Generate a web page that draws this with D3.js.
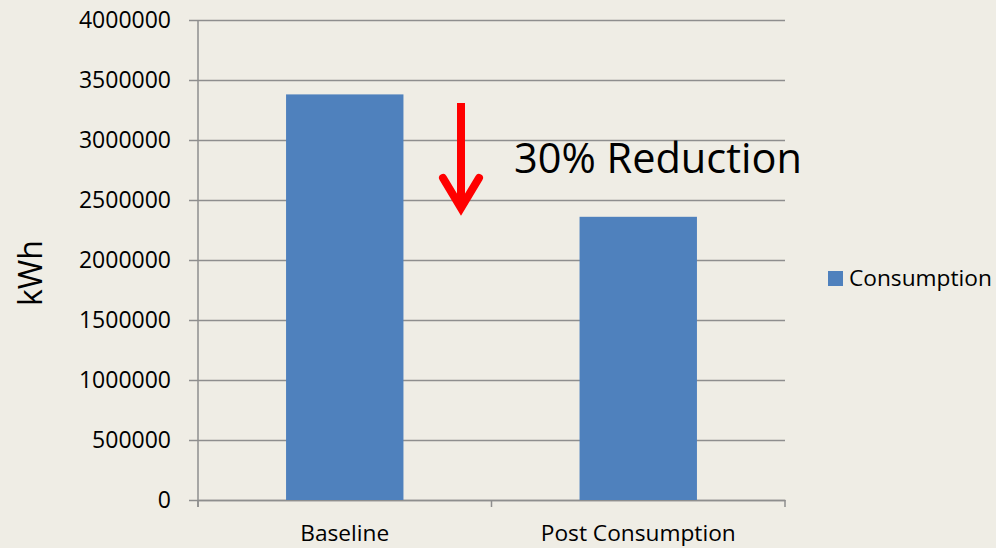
<!DOCTYPE html>
<html>
<head>
<meta charset="utf-8">
<script src="https://cdn.jsdelivr.net/npm/d3@7"></script>
<style>
  body { margin: 0; background: #efede5; }
  svg { display: block; }
  svg text { font-family: "Open Sans", sans-serif; }
</style>
</head>
<body>
<div id="chart"></div>
<script>
// data
var categories = ["Baseline", "Post Consumption"];
var consumption = [3380000, 2360000];
var yTicks = [0, 500000, 1000000, 1500000, 2000000, 2500000, 3000000, 3500000, 4000000];
var seriesName = "Consumption";
var annotation = "30% Reduction";

var W = 996, H = 548;
var margin = {top: 20, right: 211, bottom: 48, left: 198},
    width = W - margin.left - margin.right,
    height = H - margin.top - margin.bottom;

var svg = d3.select("#chart")
  .append("svg")
  .attr("width", W)
  .attr("height", H);

svg.append("rect").attr("width", W).attr("height", H).attr("fill", "#efede5");

var g = svg.append("g")
  .attr("transform", "translate(" + margin.left + "," + margin.top + ")");

var x = d3.scaleBand()
  .domain(categories)
  .range([0, width])
  .paddingInner(0.6)
  .paddingOuter(0.3);

var y = d3.scaleLinear()
  .domain([0, 4000000])
  .range([height, 0]);

// gridlines + y axis
var yAxis = g.append("g")
  .call(d3.axisLeft(y).tickValues(yTicks).tickFormat(d3.format("d")));
yAxis.select(".domain").remove();
yAxis.selectAll(".tick line")
  .attr("x1", width).attr("x2", -9)
  .attr("stroke", "#8e8e8e").attr("stroke-width", 1.5);
yAxis.selectAll(".tick text")
  .attr("x", -27)
  .style("font-family", "'Open Sans', sans-serif")
  .style("font-size", "23px").attr("fill", "#000");

// vertical axis line
g.append("line")
  .attr("x1", 0).attr("x2", 0).attr("y1", 0).attr("y2", height + 7)
  .attr("stroke", "#8e8e8e").attr("stroke-width", 1.5);

// x axis
var xAxis = g.append("g")
  .attr("transform", "translate(0," + height + ")")
  .call(d3.axisBottom(x).tickSize(0).tickPadding(25));
xAxis.select(".domain").attr("stroke", "#8e8e8e").attr("stroke-width", 1.5);
xAxis.selectAll(".tick text")
  .style("font-family", "'Open Sans', sans-serif")
  .style("font-size", "22.7px").attr("fill", "#000");
g.selectAll(".xtick")
  .data([0, width / 2, width])
  .join("line")
  .attr("class", "xtick")
  .attr("x1", d => d).attr("x2", d => d)
  .attr("y1", height).attr("y2", height + 7)
  .attr("stroke", "#8e8e8e").attr("stroke-width", 1.5);

// bars
g.selectAll(".bar")
  .data(categories)
  .join("rect")
  .attr("class", "bar")
  .attr("x", d => x(d))
  .attr("y", (d, i) => y(consumption[i]))
  .attr("width", x.bandwidth())
  .attr("height", (d, i) => height - y(consumption[i]))
  .attr("fill", "#4f81bd");

// y title
svg.append("text")
  .attr("transform", "translate(42,273) rotate(-90)")
  .attr("text-anchor", "middle")
  .style("font-size", "32px")
  .text("kWh");

// legend
var lg = svg.append("g").attr("transform", "translate(828,271)");
lg.append("rect").attr("width", 15).attr("height", 15).attr("fill", "#4f81bd");
lg.append("text").attr("x", 21).attr("y", 7.5).attr("dy", "0.35em")
  .style("font-size", "22.7px").text(seriesName);

// red arrow
var ax = 461;
svg.append("line")
  .attr("x1", ax).attr("x2", ax).attr("y1", 103).attr("y2", 208)
  .attr("stroke", "#ff0000").attr("stroke-width", 8);
svg.append("path")
  .attr("d", "M" + (ax - 18) + ",178 L" + ax + ",208 L" + (ax + 18) + ",178")
  .attr("fill", "none").attr("stroke", "#ff0000").attr("stroke-width", 8)
  .attr("stroke-linecap", "round").attr("stroke-linejoin", "miter");

// annotation
svg.append("text")
  .attr("x", 514).attr("y", 173)
  .style("font-size", "41.5px")
  .text(annotation);
</script>
</body>
</html>
